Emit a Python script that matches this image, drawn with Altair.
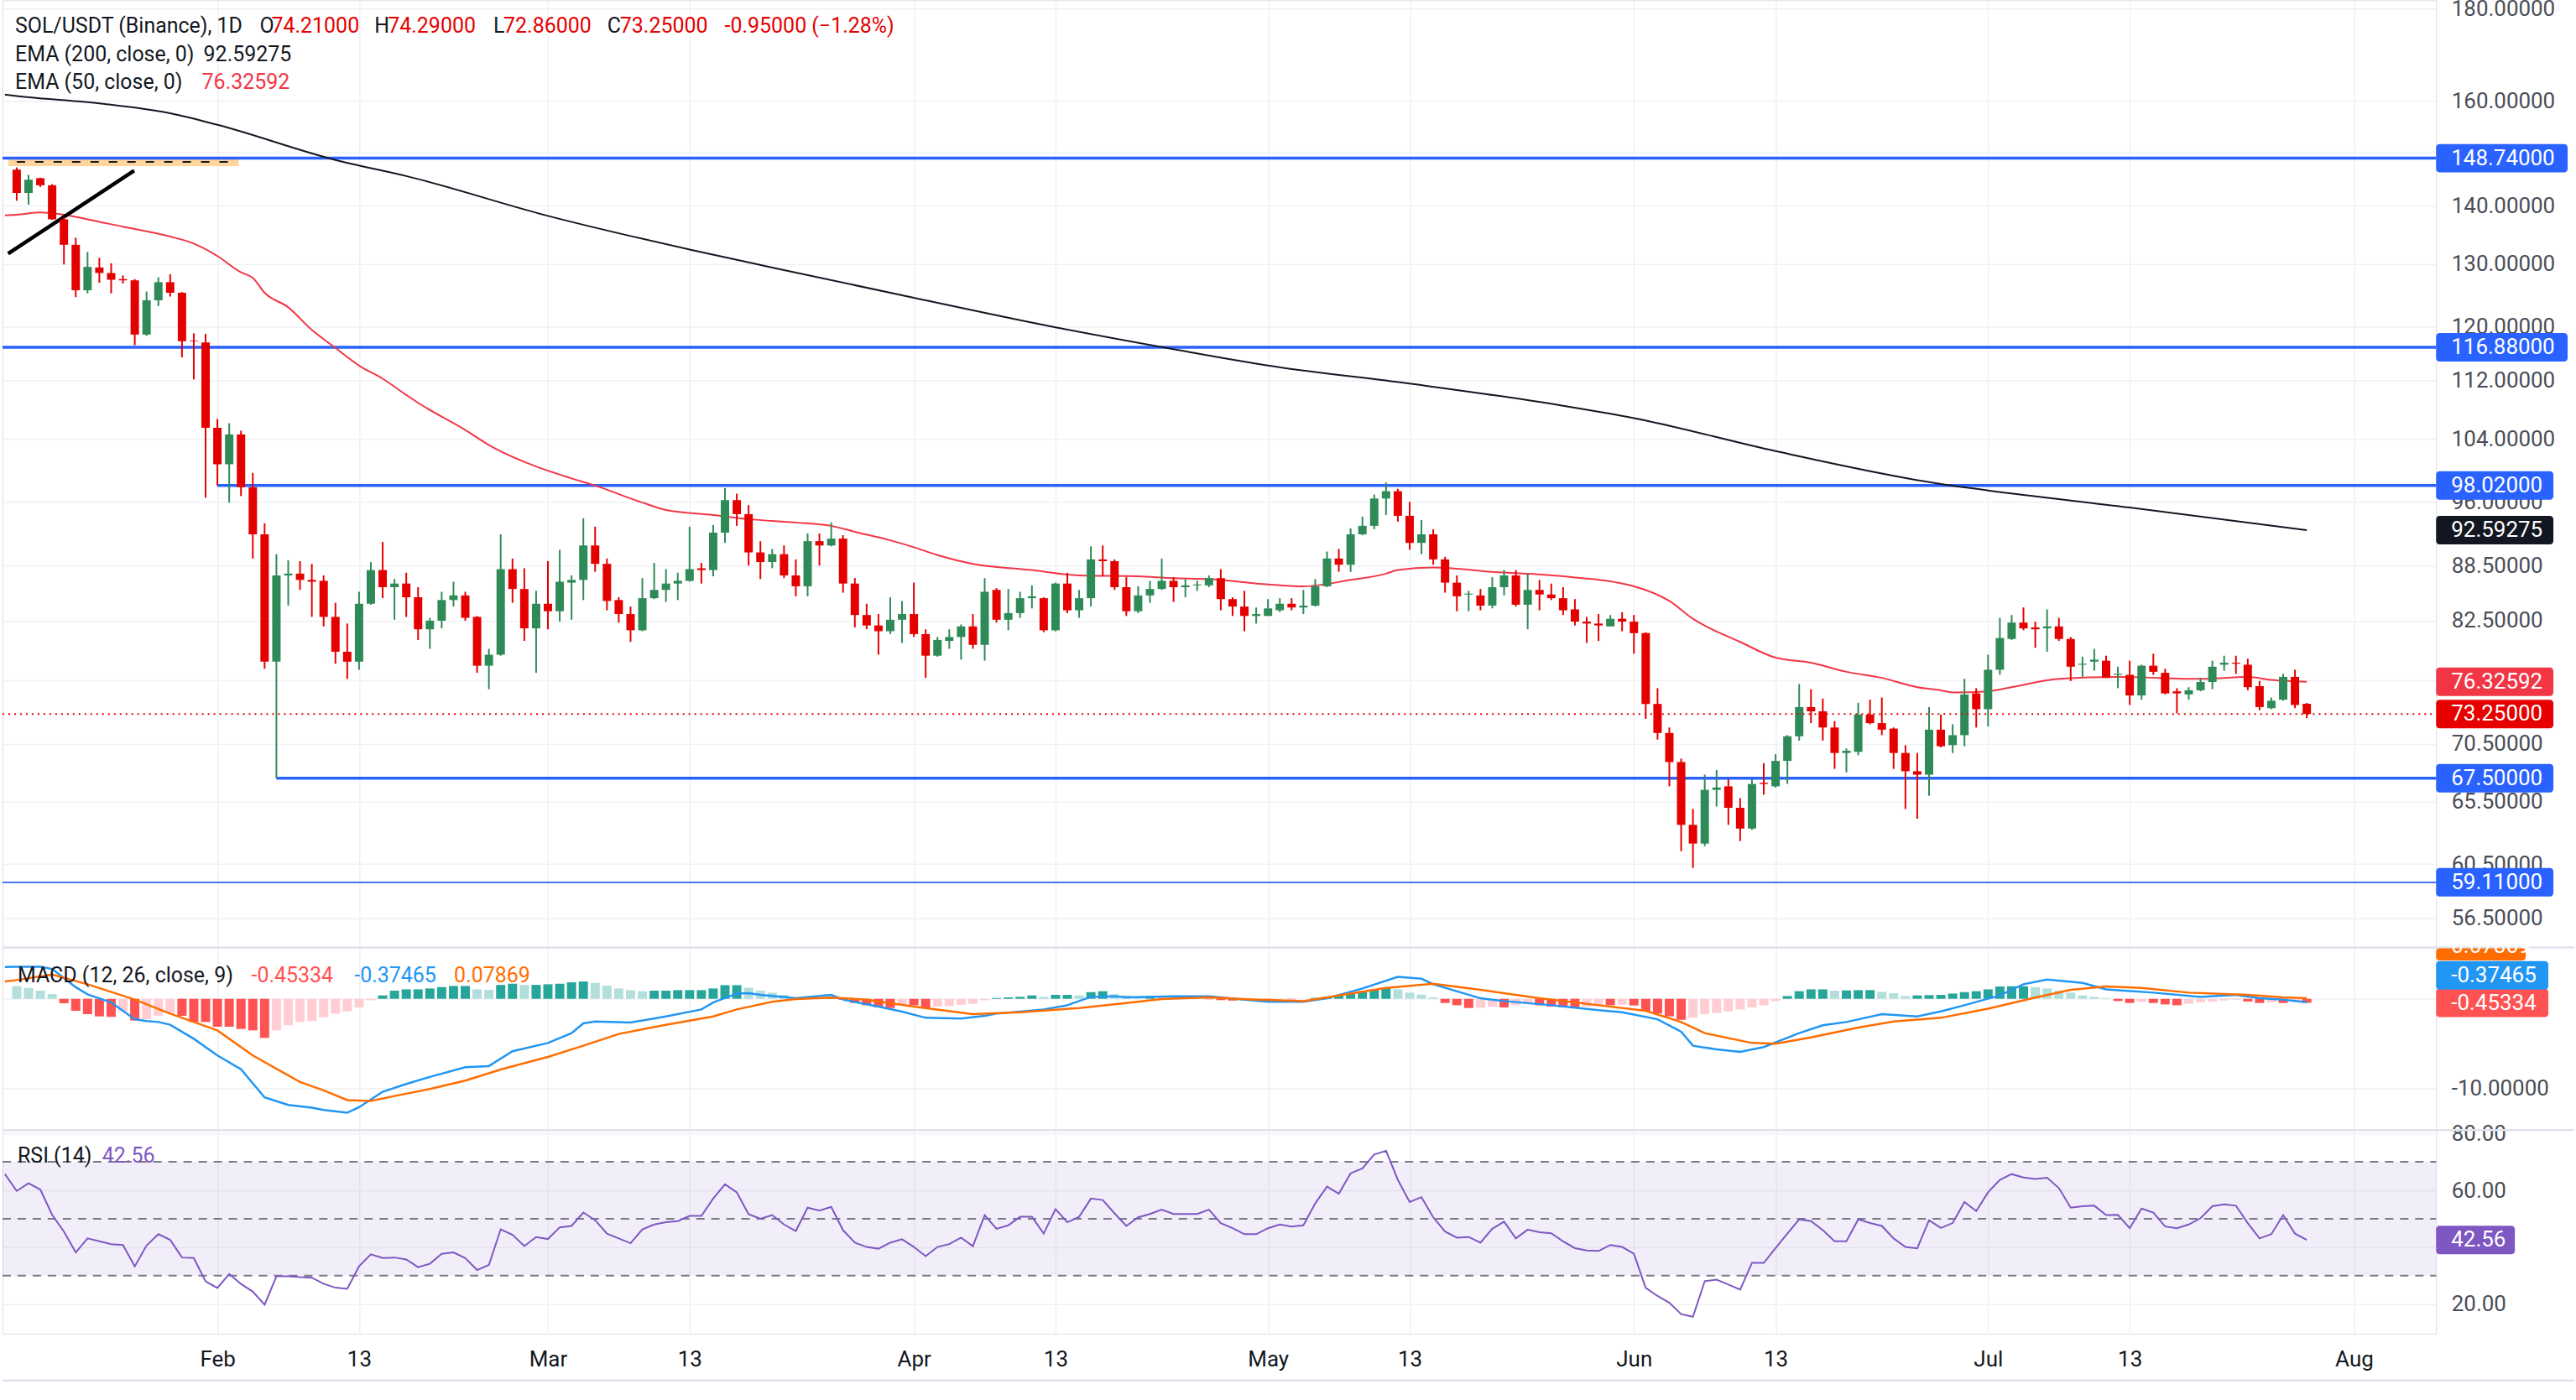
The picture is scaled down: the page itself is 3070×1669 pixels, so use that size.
import altair as alt
import pandas as pd
import numpy as np

# ---------------- data ----------------
OPEN = [146.6,142.3,145.0,143.7,137.6,133.2,125.7,129.4,128.5,127.5,
        127.3,118.8,124.1,127.0,125.3,117.9,117.6,105.5,100.7,104.6,
        97.8,92.1,78.3,87.4,87.6,86.9,86.8,82.9,79.3,78.3,
        84.3,88.0,86.1,86.5,85.0,81.6,82.5,84.7,85.2,82.9,
        77.9,79.0,88.1,85.9,81.7,84.3,83.5,86.6,86.9,90.8,
        88.7,84.7,83.2,81.5,84.9,85.8,86.5,86.8,88.2,88.0,
        92.3,96.2,94.5,90.0,88.9,89.8,87.4,86.2,91.3,90.8,
        91.6,86.5,83.1,82.0,81.4,82.6,83.2,81.1,78.9,80.4,
        80.8,81.9,80.0,85.8,82.6,83.3,84.9,84.9,81.5,86.5,
        83.6,84.9,89.2,89.0,86.1,83.5,85.2,85.9,86.8,86.1,
        86.3,86.3,87.1,84.8,84.0,83.0,83.0,83.6,84.3,83.9,
        84.1,86.2,89.3,88.6,92.1,93.1,96.4,97.3,94.3,91.1,
        92.1,89.2,86.6,85.3,85.2,84.1,86.1,87.4,84.2,85.8,
        85.3,84.9,83.7,82.4,82.2,81.9,82.7,82.4,81.2,74.2,
        71.5,68.9,63.6,62.1,66.5,66.8,65.0,63.3,67.1,66.8,
        69.0,71.2,73.9,73.5,72.0,69.7,69.8,73.2,72.4,71.9,
        69.7,68.1,67.8,71.8,70.4,71.3,75.2,73.7,77.5,80.6,
        82.3,81.8,81.7,81.9,80.6,78.0,78.3,78.4,77.0,77.0,
        75.0,77.9,77.2,75.4,75.1,75.5,76.3,78.0,78.2,78.0,
        75.9,73.8,74.6,76.8,74.21]
HIGH = [147.0,145.6,145.1,143.9,138.0,134.4,132.0,131.0,130.1,128.1,
        127.5,125.5,127.8,128.3,125.4,119.0,118.9,106.7,106.1,105.1,
        99.6,93.4,89.8,89.1,89.0,88.7,87.4,84.4,82.2,85.6,
        88.9,91.2,87.0,87.7,86.1,82.8,85.6,86.7,85.6,83.0,
        79.6,92.1,89.3,88.2,85.7,89.0,90.3,87.4,94.0,93.0,
        89.3,85.0,84.0,87.1,88.8,88.1,87.7,93.0,88.8,93.2,
        97.7,97.0,95.6,91.3,90.4,90.8,89.2,92.2,92.2,93.5,
        92.0,87.1,84.3,83.2,85.0,84.6,86.6,81.6,80.8,81.6,
        82.1,83.2,87.1,86.0,85.9,85.6,86.3,85.0,86.6,87.7,
        85.8,90.7,90.8,89.2,87.2,86.2,86.8,89.3,87.2,87.0,
        86.8,87.4,88.1,85.0,85.7,83.9,84.8,84.9,84.9,85.8,
        87.0,90.1,90.4,92.8,94.2,96.9,98.4,97.6,96.0,93.8,
        92.7,89.5,87.4,85.7,85.9,87.2,88.0,88.0,87.6,86.9,
        86.5,86.1,84.8,82.9,83.2,83.1,83.4,83.1,81.3,75.7,
        72.0,69.2,64.9,67.8,68.2,67.4,65.8,67.4,68.8,69.6,
        71.3,76.1,75.6,74.7,72.6,70.1,74.3,74.6,74.8,72.0,
        70.4,69.7,73.9,73.2,72.3,76.6,75.7,79.0,82.8,83.1,
        83.9,82.4,83.7,82.8,80.8,78.8,79.6,78.9,77.8,78.4,
        78.0,79.1,77.6,75.7,75.8,76.7,78.4,78.9,78.9,78.6,
        76.4,74.8,77.1,77.5,74.29]
LOW = [140.9,140.2,143.4,137.5,129.9,124.6,125.2,126.9,125.2,126.8,
       117.2,118.6,123.2,124.7,115.4,112.2,96.5,98.0,95.9,96.7,
       89.3,77.6,67.5,84.1,85.8,82.9,81.9,78.1,76.6,77.5,
       84.2,84.9,82.6,82.9,80.5,79.6,81.7,84.0,82.5,77.2,
       75.6,78.9,84.4,80.4,77.2,81.6,82.4,82.6,84.7,87.8,
       83.6,82.3,80.3,81.4,84.8,84.5,84.7,86.7,86.5,87.3,
       91.1,93.1,88.5,87.0,88.2,87.1,85.1,85.1,88.5,90.7,
       85.5,81.8,81.6,79.0,81.1,80.2,80.8,76.7,78.8,79.6,
       78.5,79.6,78.4,82.3,81.5,82.8,83.8,81.3,81.4,83.3,
       82.8,84.0,87.3,85.8,83.0,83.3,84.4,85.8,84.5,85.0,
       85.7,86.1,83.6,83.0,81.4,82.2,83.0,83.4,83.6,83.2,
       84.0,86.1,87.8,87.8,92.0,92.7,94.4,93.6,90.3,89.8,
       88.6,85.5,83.5,83.5,83.6,83.8,85.2,84.0,81.6,83.6,
       84.7,83.1,82.0,80.2,80.4,81.9,81.4,79.1,72.8,70.9,
       66.8,61.5,60.2,61.9,65.1,63.6,62.3,63.2,66.1,66.7,
       67.0,70.8,72.4,70.8,68.3,68.0,69.5,72.3,71.3,68.3,
       64.9,64.1,66.0,70.2,69.7,70.3,72.0,72.1,77.0,80.5,
       81.5,79.7,79.3,80.4,76.4,76.8,77.4,76.7,75.7,74.1,
       74.6,77.0,75.1,73.3,74.6,75.4,75.6,77.4,77.1,75.5,
       73.6,73.7,74.5,73.8,72.86]
CLOSE = [142.3,144.7,143.7,137.6,133.2,125.7,129.5,128.5,127.4,127.3,
         118.8,124.1,127.0,125.3,117.8,117.8,105.5,100.7,104.6,97.8,
         92.1,78.3,87.4,87.6,86.9,86.7,82.9,79.3,78.3,84.3,
         88.0,86.1,86.5,85.0,81.6,82.5,84.7,85.2,82.8,77.9,
         79.0,88.1,85.9,81.7,84.3,83.5,86.7,86.9,90.8,88.7,
         84.6,83.2,81.5,84.9,85.8,86.5,86.8,88.1,88.0,92.3,
         96.2,94.5,90.0,88.9,89.8,87.4,86.2,91.3,90.8,91.6,
         86.5,83.1,82.0,81.4,82.6,83.2,81.1,78.9,80.5,80.8,
         81.9,80.0,85.6,82.6,83.3,84.9,85.1,81.5,86.5,83.6,
         84.9,89.2,89.0,86.1,83.5,85.2,85.9,86.8,86.1,86.3,
         86.4,87.1,84.8,84.0,83.0,83.2,83.8,84.3,83.9,84.1,
         86.2,89.3,88.6,92.1,93.1,96.4,97.3,94.3,91.1,92.1,
         89.2,86.6,85.1,85.4,84.1,86.1,87.4,84.2,85.8,85.3,
         84.9,83.6,82.4,82.2,82.0,82.7,82.4,81.2,74.2,71.5,
         68.9,63.6,62.1,66.5,66.7,65.0,63.3,67.0,67.0,69.0,
         71.2,73.9,73.5,72.0,69.7,69.9,73.2,72.4,71.8,69.7,
         68.1,67.8,71.8,70.3,71.3,75.1,73.7,77.5,80.7,82.3,
         81.7,81.6,81.9,80.6,77.8,78.1,78.5,76.7,77.1,75.0,
         77.9,77.3,75.2,75.2,75.5,76.3,77.8,78.2,78.1,75.8,
         73.9,74.5,76.8,74.1,73.25]

START_DATE = "2026-01-15"

EMA50_AT = [0,1,3,5,7,10,14,16,18,20,21,22,24,26,28,30,32,34,35,39,41,44,48,50,54,56,60,63,67,
            70,72,75,77,79,82,87,91,96,99,102,107,110,114,117,118,121,126,132,138,141,143,147,
            150,153,156,159,162,164,165,168,170,174,179,186,190,192,195]
EMA50_VAL = [138.3,138.4,138.8,138.4,137.6,136.3,134.6,133.4,131.3,128.6,127.7,125.3,123.0,119.5,116.8,
             114.2,112.3,110.0,108.9,105.2,103.2,101.0,98.9,98.0,95.9,95.0,94.4,93.9,93.5,
             93.1,92.4,91.4,90.6,89.7,88.7,88.0,87.4,87.3,87.1,87.0,86.4,86.2,86.9,87.6,88.0,
             88.3,87.8,87.3,86.2,84.6,82.7,80.3,78.7,78.2,77.3,76.7,75.8,75.5,75.3,75.4,75.8,
             76.6,76.8,76.6,76.8,76.5,76.32592]
EMA200_AT = [0,1,8,14,18,28,34,46,58,65,77,89,99,107,119,132,138,150,164,168,180,195]
EMA200_VAL = [161.3,161.0,159.5,157.5,155.2,148.4,145.4,138.2,132.4,129.4,124.5,119.9,116.6,114.2,
              111.6,108.5,106.8,102.4,98.2,97.4,95.3,92.59275]

MACD_AT = [0,1,3,4,6,7,9,11,12,13,14,16,18,20,22,24,26,27,29,30,32,34,36,39,41,43,46,48,49,50,
           53,56,59,60,62,63,64,67,70,71,74,76,78,81,83,84,88,90,92,94,95,99,102,105,107,110,
           112,115,118,120,121,125,127,131,135,137,140,142,143,145,147,149,152,154,156,159,162,
           164,166,169,171,173,176,178,182,186,189,191,193,195]
MACD_VAL = [3.57,3.6,3.6,3.35,1.3,0.5,-0.41,-2.28,-2.5,-2.6,-2.9,-4.48,-6.35,-7.9,-11.05,-11.9,-12.2,
            -12.46,-12.77,-12.15,-10.42,-9.55,-8.76,-7.67,-7.54,-5.88,-4.95,-3.85,-2.75,-2.54,
            -2.66,-1.97,-1.19,-0.41,0.59,0.63,0.44,0.06,0.44,-0.09,-0.88,-1.44,-2.13,-2.22,-1.91,
            -1.66,-1.19,-0.72,0.22,0.28,0.16,0.28,0.28,-0.09,-0.34,-0.34,0.06,1.16,2.47,2.25,
            1.63,0.06,-0.25,-0.72,-1.28,-1.5,-2.29,-3.69,-5.26,-5.67,-5.95,-5.41,-3.85,-2.97,
            -2.6,-1.72,-1.97,-1.41,-0.72,0.38,1.63,2.16,1.78,1.06,0.69,0.22,0.44,0.06,-0.09,
            -0.37465]
SIGNAL_AT = [0,1,4,7,11,14,18,21,25,27,29,31,33,36,39,42,46,49,52,56,60,62,65,67,70,73,77,82,86,
             91,95,98,102,106,110,113,117,121,125,130,135,139,142,144,148,150,153,157,160,164,
             168,172,175,178,181,185,190,193,195]
SIGNAL_VAL = [1.94,2.1,2.72,1.63,-0.09,-1.66,-3.54,-6.35,-9.33,-10.27,-11.36,-11.45,-10.9,-10.11,
              -9.17,-7.92,-6.51,-5.26,-3.94,-2.91,-1.97,-1.19,-0.34,-0.03,0.13,-0.09,-0.88,
              -1.72,-1.5,-1.03,-0.47,-0.03,0.16,-0.09,-0.25,0.38,1.22,1.69,1.0,0.06,-0.72,
              -1.35,-2.6,-3.85,-4.95,-5.04,-4.32,-3.22,-2.54,-2.13,-1.1,0.13,1.0,1.38,1.22,
              0.69,0.44,0.16,0.07869]
HIST = [1.41,1.22,0.91,0.53,-0.50,-1.35,-1.72,-1.97,-2.03,-1.40,
        -2.44,-2.28,-1.88,-1.60,-1.91,-2.60,-2.60,-3.13,-3.13,-3.38,
        -3.54,-4.38,-3.54,-2.97,-2.60,-2.50,-2.07,-1.66,-1.41,-0.97,
        -0.16,0.38,0.91,1.06,1.06,1.16,1.31,1.44,1.44,1.06,
        1.00,1.56,1.69,1.56,1.56,1.63,1.69,1.85,1.94,1.78,
        1.47,1.16,0.97,0.85,0.91,0.91,0.97,0.97,0.97,1.16,
        1.53,1.53,1.25,0.91,0.69,0.44,0.16,0.10,0.15,0.20,
        -0.10,-0.47,-0.72,-0.97,-1.03,-0.72,-0.72,-1.03,-0.88,-0.81,
        -0.66,-0.56,-0.16,0.09,0.16,0.22,0.38,0.22,0.44,0.44,
        0.38,0.75,0.85,0.53,0.38,0.22,0.22,0.20,0.15,0.10,
        0.05,-0.05,-0.15,-0.20,-0.15,-0.10,-0.10,-0.05,-0.05,0.00,
        0.10,0.22,0.38,0.59,0.85,1.00,1.25,1.06,0.69,0.47,
        0.16,-0.47,-0.72,-1.03,-1.00,-0.88,-0.97,-0.72,-0.56,-0.72,
        -0.88,-0.94,-0.97,-0.88,-0.72,-0.72,-0.66,-0.75,-1.35,-1.66,
        -1.97,-2.35,-2.13,-1.72,-1.60,-1.41,-1.19,-0.97,-0.72,-0.25,
        0.31,0.85,1.06,1.06,0.91,0.94,0.97,0.97,0.78,0.63,
        0.31,0.38,0.41,0.44,0.59,0.75,0.85,1.06,1.38,1.41,
        1.41,1.31,1.16,0.91,0.69,0.38,0.22,0.09,-0.25,-0.47,
        -0.34,-0.47,-0.63,-0.72,-0.56,-0.41,-0.31,-0.19,-0.09,-0.31,
        -0.47,-0.41,-0.47,-0.34,-0.45334]
RSI_BEFORE = 65.7   # value of the partly hidden bar before the first candle
RSI = [59.8,62.5,60.3,51.4,45.5,38.2,43.1,42.1,41.1,40.8,
       33.3,40.6,44.6,42.6,36.4,36.2,28.0,25.7,30.6,27.1,
       24.4,19.8,29.8,29.8,29.5,29.3,27.2,25.8,25.4,33.3,
       37.5,36.2,36.4,35.7,33.0,34.2,37.7,38.2,36.2,32.0,
       33.8,46.3,44.4,40.4,43.6,42.9,47.0,47.5,52.2,49.5,
       44.8,43.1,41.4,46.3,48.0,48.8,49.2,51.0,51.0,57.1,
       62.1,59.3,51.6,50.0,51.3,48.0,45.7,53.9,52.9,54.2,
       46.0,41.6,40.1,39.5,41.6,42.8,40.1,36.9,40.1,41.1,
       43.4,40.4,51.3,46.5,47.7,50.7,50.7,44.8,53.4,48.8,
       50.7,57.1,56.6,51.9,47.5,50.5,51.7,53.2,51.7,51.7,
       51.7,53.2,48.5,46.7,44.6,44.6,46.7,48.0,47.3,47.7,
       55.4,61.3,58.8,66.0,67.7,72.6,73.9,63.7,55.9,57.6,
       50.5,45.5,43.4,43.6,41.6,46.5,49.0,43.1,46.2,45.3,
       44.9,42.1,39.7,38.9,38.7,40.8,40.1,37.7,25.7,22.9,
       20.5,16.5,15.6,28.1,28.6,26.9,25.1,34.5,34.5,39.7,
       44.8,49.8,49.2,46.0,42.1,42.1,49.8,48.5,47.5,43.1,
       40.1,39.6,49.5,46.8,48.5,55.9,52.7,59.3,63.7,65.7,
       64.5,64.0,64.4,60.8,53.9,54.4,54.6,51.3,51.4,46.7,
       53.6,52.2,47.3,46.7,48.0,50.2,54.4,55.1,54.6,48.5,
       43.1,44.6,51.3,44.8,42.56]

LEVELS_FULL = [148.74, 116.88]
LEVEL_THIN = [59.11]
LEVELS_FROM = [98.02, 67.5]
LEVELS_FROM_AT = [18, 23]
LAST_PRICE = 73.25
TREND_AT = [0.27, 10.95]
TREND_VAL = [131.7, 146.4]
ZONE_AT = [0.3, 19.8]
ZONE_LO, ZONE_HI, ZONE_MID = 147.26, 148.74, 148.05
ZONE_DASH_AT = [1.0, 19.0]

PRICE_TICKS = [180, 160, 150, 140, 130, 120, 112, 104, 96, 88.5, 82.5, 76.5, 70.5, 65.5, 60.5, 56.5]
PRICE_TICKS_HIDDEN = [150, 76.5]
PRICE_TAG_VAL = [148.74, 116.88, 98.02, 92.59275, 76.32592, 73.25, 67.5, 59.11]
PRICE_TAG_TXT = ["148.74000", "116.88000", "98.02000", "92.59275", "76.32592", "73.25000",
                 "67.50000", "59.11000"]
TICK_DATES = ["2026-02-01", "2026-02-13", "2026-03-01", "2026-03-13", "2026-04-01", "2026-04-13",
              "2026-05-01", "2026-05-13", "2026-06-01", "2026-06-13", "2026-07-01", "2026-07-13",
              "2026-08-01"]

# ---------------- styles ----------------
FONT = "Roboto"
FS = 26
HFS = 25
W = 2905
H_P, H_M, H_R = 1131, 218, 243
UP, DOWN = "#2E8B57", "#E50000"
BLUE = "#2962FF"
GRID = "#F0F1F4"
SEP = "#E0E3EB"
TXT = "#131722"
AXT = "#4A4D57"
PRICE_TAG_COL = [BLUE, BLUE, BLUE, "#131722", "#F23645", "#E60000", BLUE, BLUE]

n = len(OPEN)
DATES = pd.date_range(START_DATE, periods=n, freq="D")
DAY = [(d - DATES[0]).days + 1 for d in DATES]
TD = pd.to_datetime(TICK_DATES)
TICK_K = [(d - DATES[0]).days + 1 for d in TD]
TICK_LAB = [d.strftime("%b") if d.day == 1 else str(d.day) for d in TD]

XS = alt.Scale(domain=[0.1513, 205.6], nice=False, zero=False)
XAX_H = alt.Axis(values=TICK_K, labels=False, ticks=False, domain=False, grid=True,
                 gridColor=GRID, gridWidth=1.5, title=None)
lab_expr = ("[" + ",".join("'%s'" % s for s in TICK_LAB) + "][indexof(["
            + ",".join(str(v) for v in TICK_K) + "], datum.value)]")
XAX_B = alt.Axis(values=TICK_K, labelExpr=lab_expr, ticks=False, domain=False, grid=True,
                 gridColor=GRID, gridWidth=1.5, title=None, labelFontSize=FS, labelFont=FONT,
                 labelColor=TXT, labelPadding=31, labelBaseline="middle", labelFlush=False,
                 labelOverlap=False)


def xk(field, bottom=False):
    return alt.X(f"{field}:Q", scale=XS, axis=XAX_B if bottom else XAX_H)


hidden_expr = " || ".join("datum.value == %s" % v for v in PRICE_TICKS_HIDDEN)
PS = alt.Scale(type="log", domain=[54.4, 181.9], nice=False, zero=False)
PAX = alt.Axis(orient="right", values=PRICE_TICKS, title=None, labelPadding=18,
               labelExpr="(%s) ? '' : format(datum.value, '.5f')" % hidden_expr,
               labelFontSize=FS, labelFont=FONT, labelColor=AXT, ticks=False, domain=False,
               grid=True, gridColor=GRID, gridWidth=1.5, labelAlign="left", labelOverlap=False)


def py(field):
    return alt.Y(f"{field}:Q", scale=PS, axis=PAX)


MS = alt.Scale(domain=[-14.71, 5.756], nice=False, zero=False)
MAX = alt.Axis(orient="right", values=[0, -10], title=None, labelPadding=18,
               labelExpr="datum.value == 0 ? '' : '-10.00000'",
               labelFontSize=FS, labelFont=FONT, labelColor=AXT, ticks=False, domain=False,
               grid=True, gridColor=GRID, gridWidth=1.5, labelAlign="left", labelOverlap=False)


def my(field):
    return alt.Y(f"{field}:Q", scale=MS, axis=MAX)


RS = alt.Scale(domain=[9.7, 81.18], nice=False, zero=False)
RAX = alt.Axis(orient="right", values=[20, 40, 60, 80], title=None, labelPadding=18,
               labelExpr="datum.value == 40 ? '' : format(datum.value, '.2f')",
               labelFontSize=FS, labelFont=FONT, labelColor=AXT, ticks=False, domain=False,
               grid=True, gridColor=GRID, gridWidth=1.5, labelAlign="left", labelOverlap=False)


def ry(field):
    return alt.Y(f"{field}:Q", scale=RS, axis=RAX)


ONE = pd.DataFrame({"a": [0]})


def text_at(txt, x, y, color, size=HFS, align="left"):
    return alt.Chart(pd.DataFrame({"t": [txt]})).mark_text(
        align=align, baseline="middle", font=FONT, fontSize=size, color=color
    ).encode(x=alt.value(x), y=alt.value(y), text="t:N")


def hline(color, width, y_enc, x0=0, x1=W, dash=None):
    kw = dict(color=color, strokeWidth=width)
    if dash:
        kw["strokeDash"] = dash
    return alt.Chart(ONE).mark_rule(**kw).encode(x=alt.value(x0), x2=alt.value(x1), y=y_enc)


# ---------------- price pane ----------------
cdf = pd.DataFrame({"k": DAY, "open": OPEN, "high": HIGH, "low": LOW, "close": CLOSE})
cdf["col"] = np.where(cdf["close"] >= cdf["open"], UP, DOWN)

zone = alt.Chart(pd.DataFrame({"x0": [ZONE_AT[0]], "x1": [ZONE_AT[1]], "lo": [ZONE_LO],
                               "hi": [ZONE_HI]})).mark_rect(color="#FFD59B").encode(
    x=xk("x0"), x2="x1:Q", y=py("lo"), y2="hi:Q")
zone_dash = alt.Chart(pd.DataFrame({"x0": [ZONE_DASH_AT[0]], "x1": [ZONE_DASH_AT[1]],
                                    "p": [ZONE_MID]})).mark_rule(
    color="#131722", strokeWidth=2, strokeDash=[10, 12]).encode(x=xk("x0"), x2="x1:Q", y=py("p"))

lev_full = alt.Chart(pd.DataFrame({"p": LEVELS_FULL})).mark_rule(color=BLUE, strokeWidth=3.5).encode(
    x=alt.value(0), x2=alt.value(W), y=py("p"))
lev_thin = alt.Chart(pd.DataFrame({"p": LEVEL_THIN})).mark_rule(color=BLUE, strokeWidth=1.6).encode(
    x=alt.value(0), x2=alt.value(W), y=py("p"))
lev_from = alt.Chart(pd.DataFrame({"p": LEVELS_FROM, "k": LEVELS_FROM_AT})).mark_rule(
    color=BLUE, strokeWidth=3.5).encode(x=xk("k"), x2=alt.value(W), y=py("p"))

ema200 = alt.Chart(pd.DataFrame({"k": EMA200_AT, "v": EMA200_VAL})).mark_line(
    color="#131722", strokeWidth=2, interpolate="monotone", clip=True).encode(x=xk("k"), y=py("v"))
ema50 = alt.Chart(pd.DataFrame({"k": EMA50_AT, "v": EMA50_VAL})).mark_line(
    color="#F23645", strokeWidth=2, interpolate="monotone", clip=True).encode(x=xk("k"), y=py("v"))
trend = alt.Chart(pd.DataFrame({"k": TREND_AT, "v": TREND_VAL})).mark_line(
    color="#000000", strokeWidth=4.5).encode(x=xk("k"), y=py("v"))

wicks = alt.Chart(cdf).mark_rule(strokeWidth=2).encode(
    x=xk("k"), y=py("low"), y2="high:Q", color=alt.Color("col:N", scale=None))
bodies = alt.Chart(cdf).mark_bar(size=10).encode(
    x=xk("k"), y=py("open"), y2="close:Q", color=alt.Color("col:N", scale=None))

last_line = alt.Chart(pd.DataFrame({"p": [LAST_PRICE]})).mark_rule(
    color="#E60000", strokeWidth=2, strokeDash=[2, 5]).encode(x=alt.value(0), x2=alt.value(W), y=py("p"))

tags = pd.DataFrame({"v": PRICE_TAG_VAL, "t": PRICE_TAG_TXT, "c": PRICE_TAG_COL})
tags["wide"] = tags["t"].str.len() > 8
tag_wide = alt.Chart(tags[tags["wide"]]).mark_rect(yOffset=-17, y2Offset=17, cornerRadius=4).encode(
    x=alt.value(W), x2=alt.value(W + 157), y=py("v"), y2="v:Q", color=alt.Color("c:N", scale=None))
tag_nar = alt.Chart(tags[~tags["wide"]]).mark_rect(yOffset=-17, y2Offset=17, cornerRadius=4).encode(
    x=alt.value(W), x2=alt.value(W + 140), y=py("v"), y2="v:Q", color=alt.Color("c:N", scale=None))
tag_txt = alt.Chart(tags).mark_text(align="left", baseline="middle", font=FONT, fontSize=FS,
                                     color="white").encode(x=alt.value(W + 18), y=py("v"), text="t:N")

hdr = [
    text_at("SOL/USDT (Binance), 1D", 15, 31, TXT),
    text_at("O", 307, 31, TXT), text_at("74.21000", 321, 31, "#E50000"),
    text_at("H", 444, 31, TXT), text_at("74.29000", 460, 31, "#E50000"),
    text_at("L", 586, 31, TXT), text_at("72.86000", 598, 31, "#E50000"),
    text_at("C", 722, 31, TXT), text_at("73.25000", 737, 31, "#E50000"),
    text_at("-0.95000 (\u22121.28%)", 862, 31, "#E50000"),
    text_at("EMA (200, close, 0)", 15, 65, TXT), text_at("92.59275", 240, 65, "#131722"),
    text_at("EMA (50, close, 0)", 15, 98, TXT), text_at("76.32592", 238, 98, "#F23645"),
]

price = alt.layer(zone, zone_dash, lev_full, lev_thin, lev_from, ema200, ema50, trend, wicks,
                  bodies, last_line, tag_wide, tag_nar, tag_txt, *hdr).properties(width=W, height=H_P)

# ---------------- MACD pane ----------------
hcol = []
for i, v in enumerate(HIST):
    prev = HIST[i - 1] if i > 0 else v + 1
    if v >= 0:
        hcol.append("#26A69A" if v >= prev else "#B2DFDB")
    else:
        hcol.append("#FF5252" if v <= prev else "#FFCDD2")
hdf = pd.DataFrame({"k": DAY, "h": HIST, "c": hcol, "z": [0.0] * len(HIST)})

sep_m = hline(SEP, 2.5, alt.value(0), 0, 3070)
hist = alt.Chart(hdf).mark_bar(size=11).encode(
    x=xk("k"), y=my("h"), y2="z:Q", color=alt.Color("c:N", scale=None))
macd_line = alt.Chart(pd.DataFrame({"k": MACD_AT, "v": MACD_VAL})).mark_line(
    color="#2196F3", strokeWidth=2.5, clip=True).encode(x=xk("k"), y=my("v"))
sig_line = alt.Chart(pd.DataFrame({"k": SIGNAL_AT, "v": SIGNAL_VAL})).mark_line(
    color="#FF6D00", strokeWidth=2.5, clip=True).encode(x=xk("k"), y=my("v"))

m_red = alt.Chart(pd.DataFrame({"v": [HIST[-1]], "t": ["-0.45334"]}))
m_blue = alt.Chart(pd.DataFrame({"v": [MACD_VAL[-1]], "t": ["-0.37465"]}))
m_or = alt.Chart(pd.DataFrame({"v": [SIGNAL_VAL[-1]], "t": ["0.07869"]}))
mtags = [
    m_red.mark_rect(yOffset=-17, y2Offset=17, cornerRadius=4, color="#FF5252").encode(
        x=alt.value(W), x2=alt.value(W + 134), y=my("v"), y2="v:Q"),
    m_blue.mark_rect(yOffset=-49, y2Offset=-15, cornerRadius=4, color="#2196F3").encode(
        x=alt.value(W), x2=alt.value(W + 134), y=my("v"), y2="v:Q"),
    m_or.mark_rect(yOffset=-45, cornerRadius=4, color="#FF6D00").encode(
        x=alt.value(W), x2=alt.value(W + 107), y=my("v"), y2=alt.value(1)),
    m_red.mark_text(align="left", baseline="middle", font=FONT, fontSize=FS, color="white").encode(
        x=alt.value(W + 18), y=my("v"), text="t:N"),
    m_blue.mark_text(align="left", baseline="middle", font=FONT, fontSize=FS, color="white", dy=-32).encode(
        x=alt.value(W + 18), y=my("v"), text="t:N"),
    m_or.mark_text(align="left", baseline="middle", font=FONT, fontSize=FS, color="white", dy=-62).encode(
        x=alt.value(W + 18), y=my("v"), text="t:N"),
]
mhdr = [
    text_at("MACD (12, 26, close, 9)", 18, 34, TXT),
    text_at("-0.45334", 297, 34, "#FF5252"),
    text_at("-0.37465", 420, 34, "#2196F3"),
    text_at("0.07869", 539, 34, "#FF6D00"),
]
macd = alt.layer(hist, macd_line, sig_line, sep_m, *mtags, *mhdr).properties(width=W, height=H_M)

# ---------------- RSI pane ----------------
sep_r = hline(SEP, 2.5, alt.value(0), 0, 3070)
rband = alt.Chart(pd.DataFrame({"lo": [30], "hi": [70]})).mark_rect(color="#7E57C2", opacity=0.1).encode(
    x=alt.value(0), x2=alt.value(W), y=ry("lo"), y2="hi:Q")
rlev = alt.Chart(pd.DataFrame({"v": [70, 50, 30]})).mark_rule(
    color="#787B86", strokeWidth=2, strokeDash=[10, 8]).encode(x=alt.value(0), x2=alt.value(W), y=ry("v"))
rline = alt.Chart(pd.DataFrame({"k": [0] + DAY, "v": [RSI_BEFORE] + RSI})).mark_line(
    color="#7E57C2", strokeWidth=2, clip=True).encode(x=xk("k", bottom=True), y=ry("v"))
r_tag_d = alt.Chart(pd.DataFrame({"v": [RSI[-1]], "t": ["42.56"]}))
rtags = [
    r_tag_d.mark_rect(yOffset=-17, y2Offset=17, cornerRadius=4, color="#7E57C2").encode(
        x=alt.value(W), x2=alt.value(W + 94), y=ry("v"), y2="v:Q"),
    r_tag_d.mark_text(align="left", baseline="middle", font=FONT, fontSize=FS, color="white").encode(
        x=alt.value(W + 18), y=ry("v"), text="t:N"),
]
rhdr = [text_at("RSI (14)", 18, 31, TXT), text_at("42.56", 119, 31, "#7E57C2")]
bottom_border = hline(SEP, 2.5, alt.value(299), 0, 3070)
rsi = alt.layer(rband, rlev, rline, sep_r, *rtags, *rhdr, bottom_border).properties(width=W, height=H_R)

chart = alt.vconcat(price, macd, rsi, spacing=0, bounds="flush").resolve_scale(
    x="shared", y="independent").resolve_axis(
    x="independent", y="independent").properties(
    padding={"left": 0, "top": -5, "right": 0, "bottom": 0}, background="white").configure_view(
    stroke=None).configure(font=FONT)

chart.save("out.html", embed_options={"renderer": "svg", "actions": False})
